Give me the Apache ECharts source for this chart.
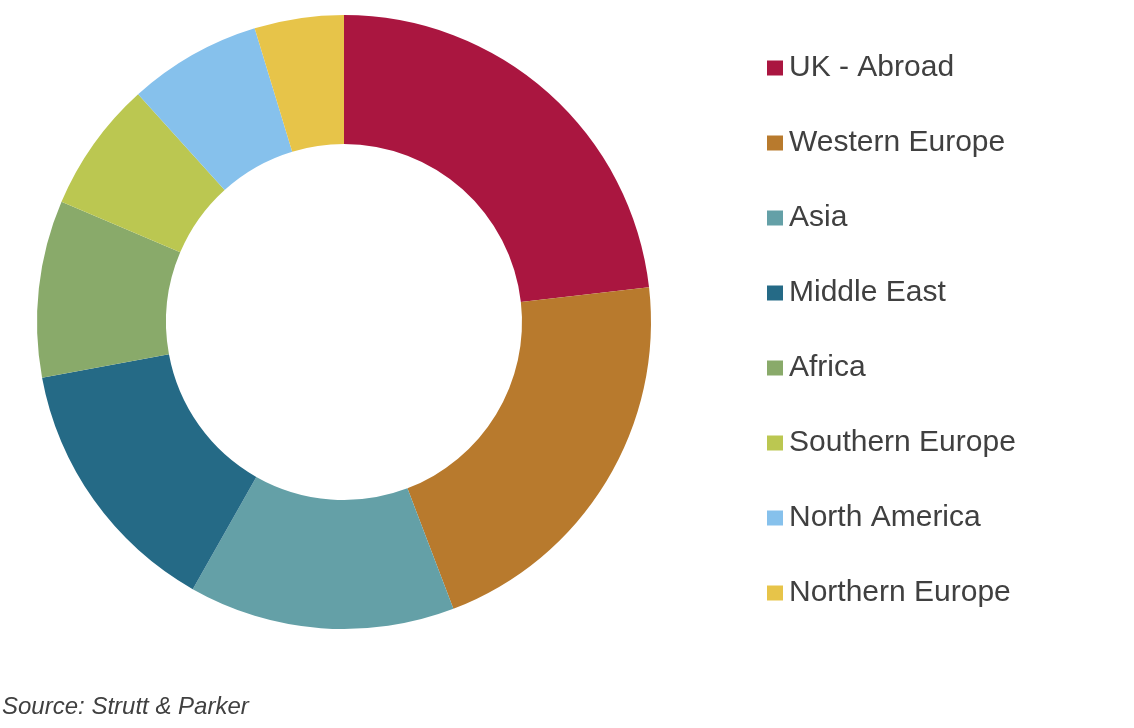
<!DOCTYPE html>
<html>
<head>
<meta charset="utf-8">
<script src="https://cdn.jsdelivr.net/npm/echarts@6/dist/echarts.min.js"></script>
<style>
html,body{margin:0;padding:0;background:#fff;}
#c{width:1134px;height:728px;}
</style>
</head>
<body>
<div id="c"></div>
<script>
const categories = ["UK - Abroad","Western Europe","Asia","Middle East","Africa","Southern Europe","North America","Northern Europe"];
const values = [23.2, 21.0, 14.0, 13.9, 9.3, 6.9, 7.0, 4.7];
const colors = ["#AA1640","#B87A2D","#64A0A7","#256A86","#89AA6A","#BBC751","#86C1EC","#E7C449"];
const sourceText = "Source: Strutt & Parker";

const chart = echarts.init(document.getElementById('c'), null, {renderer:'canvas'});
chart.setOption({
  animation:false,
  backgroundColor:'#ffffff',
  color: colors,
  legend:{
    orient:'vertical',
    left:762,
    top:48,
    icon:'rect',
    itemWidth:16,
    itemHeight:15,
    itemGap:45,
    selectedMode:false,
    textStyle:{fontFamily:'Liberation Sans, Arial, sans-serif',fontSize:30,color:'#404040',lineHeight:30,padding:[0,0,0,1]},
    data: categories
  },
  graphic:[{
    type:'text', left:2, top:695,
    style:{text:sourceText, font:'italic 24px "Liberation Sans", Arial, sans-serif', fill:'#404040'}
  }],
  series:[{
    type:'pie',
    center:[344,322],
    radius:[178,307],
    startAngle:90,
    clockwise:true,
    avoidLabelOverlap:false,
    label:{show:false},
    labelLine:{show:false},
    emphasis:{disabled:true},
    itemStyle:{borderWidth:0},
    data: categories.map((n,i)=>({name:n,value:values[i]}))
  }]
});
</script>
</body>
</html>
